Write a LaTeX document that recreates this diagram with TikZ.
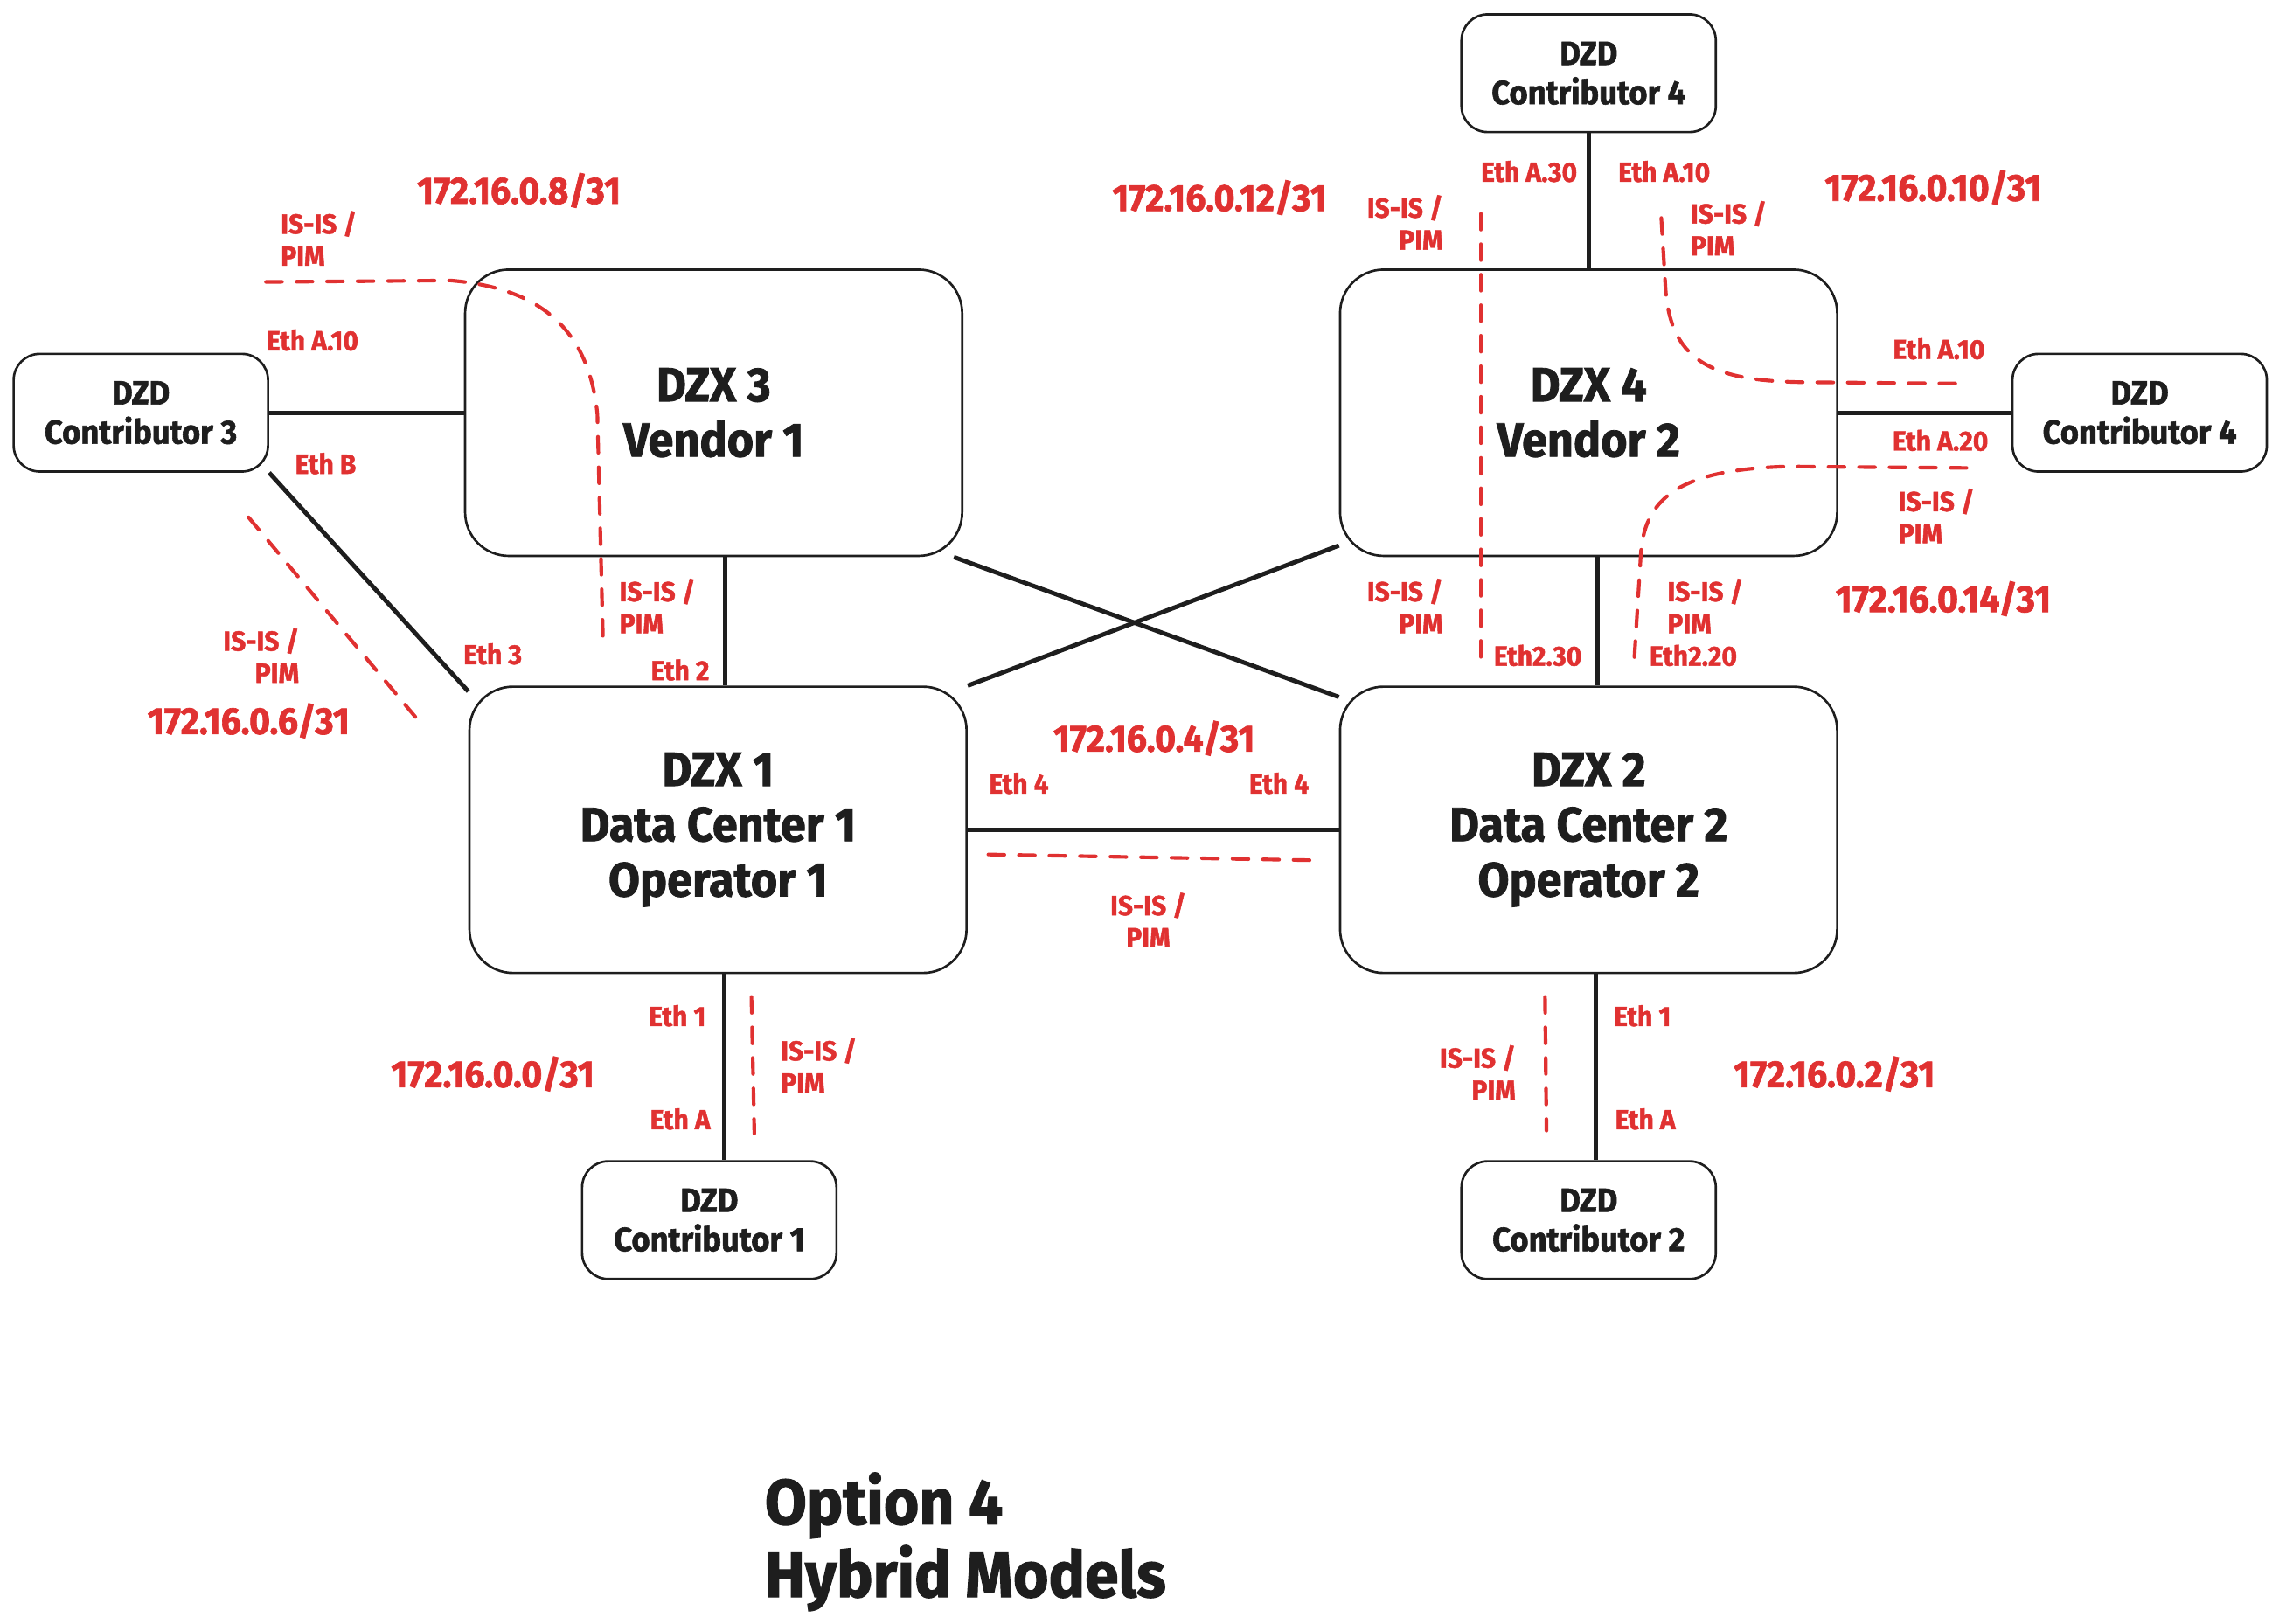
\documentclass[tikz,border=0pt]{standalone}
\usepackage{fontspec}
\setmainfont{Fira Sans}[FakeStretch=0.95, BoldFeatures={FakeBold=1.5}]
\usetikzlibrary{positioning}
\definecolor{isred}{RGB}{224,49,49}
\definecolor{ink}{RGB}{30,30,30}
\newcommand\dzxw{342pt}
\newcommand\dzxh{197pt}
\newcommand\dzdw{175pt}
\newcommand\dzdh{81pt}
\newcommand\gapdown{128pt}

\tikzset{
  dzx/.style={draw=ink, line width=1.6pt, rounded corners=30pt,
    minimum width=\dzxw, minimum height=\dzxh, align=center, text=ink,
    font=\fontsize{33}{38}\selectfont\bfseries},
  dzd/.style={draw=ink, line width=1.6pt, rounded corners=18pt,
    minimum width=\dzdw, minimum height=\dzdh, align=center, text=ink,
    font=\fontsize{23}{27}\selectfont\bfseries},
  link/.style={draw=ink, line width=3pt},
  area/.style={draw=isred, line width=2.5pt, line cap=round,
    dash pattern=on 11pt off 10pt},
  lbl/.style={text=isred, inner sep=0pt, font=\fontsize{19}{22}\selectfont\bfseries},
  ipnet/.style={text=isred, inner sep=0pt, font=\fontsize{26}{28}\selectfont\bfseries},
}

\begin{document}
\begin{tikzpicture}[x=1pt, y=-1pt]
  \useasboundingbox (0,0) rectangle (1568,1117);

  % switches
  \node[dzx] (dzx3) at (491,284) {DZX 3\\Vendor 1};
  \node[dzx] (dzx4) at (1093,284) {DZX 4\\Vendor 2};
  \node[dzx] (dzx1) at (494,571) {DZX 1\\Data Center 1\\Operator 1};
  \node[dzx] (dzx2) at (1093,571) {DZX 2\\Data Center 2\\Operator 2};
  % contributors
  \node[dzd, left=134pt of dzx3] (con3) {DZD\\Contributor 3};
  \node[dzd, above=93pt of dzx4] (con4t) {DZD\\Contributor 4};
  \node[dzd, right=119pt of dzx4] (con4r) {DZD\\Contributor 4};
  \node[dzd, below=\gapdown of dzx1, xshift=-6pt] (con1) {DZD\\Contributor 1};
  \node[dzd, below=\gapdown of dzx2] (con2) {DZD\\Contributor 2};

  % links
  \draw[link] (con3.east) -- (dzx3.west);
  \draw[link] (con3.south east) -- (dzx1.151);
  \draw[link] (dzx3.south -| 499,0) -- (dzx1.north -| 499,0);
  \draw[link] (dzx3.-31) -- (dzx2.152);
  \draw[link] (dzx4.208) -- (dzx1.30);
  \draw[link] (dzx1.east) -- (dzx2.west);
  \draw[link] (con4t.south) -- (dzx4.north);
  \draw[link] (dzx4.east) -- (con4r.west);
  \draw[link] (dzx4.south -| 1099,0) -- (dzx2.north -| 1099,0);
  \draw[link] (dzx1.south -| 498,0) -- (con1.north -| 498,0);
  \draw[link] (dzx2.south -| 1098,0) -- (con2.north -| 1098,0);

  % IS-IS / PIM areas
  \draw[area] (183,194) -- (310,193) .. controls (370,198) and (405,225) .. (411,285) -- (415,446);
  \draw[area] (171,356) -- (288,496);
  \draw[area] (1019,147) -- (1019,460);
  \draw[area] (1143,150) -- (1146,200) .. controls (1150,250) and (1180,262) .. (1240,263) -- (1355,264);
  \draw[area] (1353,322) -- (1230,321) .. controls (1160,323) and (1132,340) .. (1129,380) -- (1124,460);
  \draw[area] (680,588) -- (905,592);
  \draw[area] (517,686) -- (519,780);
  \draw[area] (1063,686) -- (1064,778);

  % subnets
  \node[ipnet] (ip8) at (357,131) {172.16.0.8/31};
  \node[ipnet] (ip6) at (171,496) {172.16.0.6/31};
  \node[ipnet] (ip4) at (794,508) {172.16.0.4/31};
  \node[ipnet] (ip0) at (339,739) {172.16.0.0/31};
  \node[ipnet] (ip2) at (1262,739) {172.16.0.2/31};
  \node[ipnet] (ip12) at (839,136) {172.16.0.12/31};
  \node[ipnet] (ip10) at (1330,129) {172.16.0.10/31};
  \node[ipnet] (ip14) at (1337,412) {172.16.0.14/31};

  % protocol labels
  \node[lbl, anchor=west, align=left] (isa) at (193,164) {IS-IS /\\PIM};
  \node[lbl, anchor=east, align=right] (isb) at (206,451) {IS-IS /\\PIM};
  \node[lbl, anchor=west, align=left] (isc) at (426,417) {IS-IS /\\PIM};
  \node[lbl, align=center] (isd) at (790,633) {IS-IS /\\PIM};
  \node[lbl, anchor=west, align=left] (ise) at (537,733) {IS-IS /\\PIM};
  \node[lbl, anchor=east, align=right] (isf) at (1043,738) {IS-IS /\\PIM};
  \node[lbl, anchor=east, align=right] (isg) at (993,153) {IS-IS /\\PIM};
  \node[lbl, anchor=west, align=left] (ish) at (1163,157) {IS-IS /\\PIM};
  \node[lbl, anchor=west, align=left] (isi) at (1306,355) {IS-IS /\\PIM};
  \node[lbl, anchor=east, align=right] (isj) at (993,417) {IS-IS /\\PIM};
  \node[lbl, anchor=west, align=left] (isk) at (1147,417) {IS-IS /\\PIM};

  % interface labels
  \node[lbl] (etha10l) at (215,234) {Eth A.10};
  \node[lbl] (ethb) at (224,319) {Eth B};
  \node[lbl] (eth3) at (339,450) {Eth 3};
  \node[lbl] (eth2) at (468,461) {Eth 2};
  \node[lbl] (eth4l) at (701,539) {Eth 4};
  \node[lbl] (eth4r) at (880,539) {Eth 4};
  \node[lbl] (eth1l) at (466,699) {Eth 1};
  \node[lbl] (ethal) at (468,770) {Eth A};
  \node[lbl] (eth1r) at (1130,699) {Eth 1};
  \node[lbl] (ethar) at (1132,770) {Eth A};
  \node[lbl] (etha30) at (1052,118) {Eth A.30};
  \node[lbl] (etha10t) at (1145,118) {Eth A.10};
  \node[lbl] (etha10r) at (1334,240) {Eth A.10};
  \node[lbl] (etha20) at (1335,303) {Eth A.20};
  \node[lbl] (eth230) at (1058,451) {Eth2.30};
  \node[lbl] (eth220) at (1165,451) {Eth2.20};

  % title
  \node[anchor=north west, align=left, inner sep=0pt, text=ink,
    font=\fontsize{44}{50}\selectfont\bfseries] (title) at (526,1013) {Option 4\\Hybrid Models};
\end{tikzpicture}
\end{document}
